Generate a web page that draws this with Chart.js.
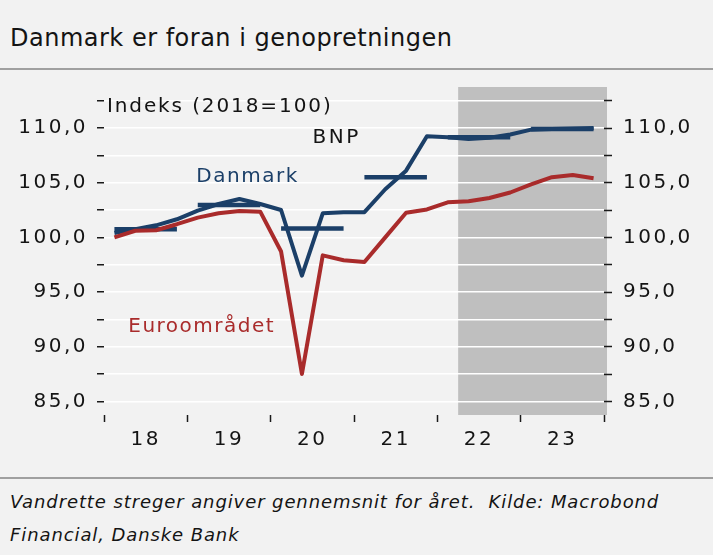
<!DOCTYPE html>
<html><head><meta charset="utf-8">
<script src="https://cdn.jsdelivr.net/npm/chart.js@4.4.0/dist/chart.umd.min.js"></script>
<style>
html,body{margin:0;padding:0;background:#f2f2f2;width:713px;height:555px;overflow:hidden;}
#title{position:absolute;left:10px;top:24px;font-family:"DejaVu Sans";font-size:24px;line-height:28px;color:#141414;letter-spacing:0.5px;white-space:nowrap;}
.rule{position:absolute;left:0;width:713px;height:2px;background:#a0a0a0;}
#wrap{position:absolute;left:0;top:70px;width:713px;height:406px;}
#note{position:absolute;left:10px;top:485px;font-family:"DejaVu Sans";font-style:italic;font-size:18px;line-height:33px;color:#141414;letter-spacing:0.9px;white-space:nowrap;}
</style></head>
<body>
<div id="title">Danmark er foran i genopretningen</div>
<div class="rule" style="top:68px"></div>
<div id="wrap"><canvas id="c"></canvas></div>
<div class="rule" style="top:477px"></div>
<div id="note">Vandrette streger angiver gennemsnit for året.&nbsp; Kilde: Macrobond<br>Financial, Danske Bank</div>
<script>
// ---- data ----
const quarters = ['18K1','18K2','18K3','18K4','19K1','19K2','19K3','19K4','20K1','20K2','20K3','20K4',
                  '21K1','21K2','21K3','21K4','22K1','22K2','22K3','22K4','23K1','23K2','23K3','23K4'];
const years = ['18','19','20','21','22','23'];
const danmark = [100.4,100.75,101.1,101.65,102.45,103.05,103.5,103.05,102.5,96.5,102.2,102.3,
                 102.3,104.4,106.1,109.25,109.15,109.0,109.1,109.4,109.85,109.9,109.95,110.0];
const euro = [100.0,100.6,100.65,101.2,101.8,102.2,102.4,102.35,98.7,87.5,98.35,97.9,
              97.75,100.0,102.25,102.55,103.2,103.3,103.6,104.1,104.85,105.5,105.7,105.4];
const danmarkAvg = [100.75,102.95,100.8,105.5,109.15,109.9];
const yTicks = [85,87.5,90,92.5,95,97.5,100,102.5,105,107.5,110,112.5];
const yTickLabels = ['85,0','','90,0','','95,0','','100,0','','105,0','','110,0',''];
const forecastStart = 16.5; // between 22K1 and 22K2

// ---- derived ----
const BLUE = '#1b3f68', RED = '#a92b2b';
const xBoundaries = years.map((y,i)=>i*4-0.5).concat([years.length*4-0.5]);
const xCenters = years.map((y,i)=>i*4+1.5);
const xTicks = xBoundaries.concat(xCenters).sort((a,b)=>a-b);
const avgPts = [];
danmarkAvg.forEach((v,i)=>{ avgPts.push({x:i*4,y:v},{x:i*4+3,y:v},{x:i*4+3.5,y:null}); });

const notes = [
  {text:'Indeks (2018=100)', x:-0.36, y:112.1, color:'#141414', align:'left', ls:'1.9px'},
  {text:'BNP', x:10.67, y:109.3, color:'#141414', align:'center', ls:'2.5px'},
  {text:'Danmark', x:6.39, y:105.7, color:BLUE, align:'center', ls:'1.5px'},
  {text:'Euroområdet', x:4.19, y:92.0, color:RED, align:'center', ls:'1.5px'}
];

const FONT = {family:'DejaVu Sans', size:20};
const shadePlugin = {
  id:'shade',
  beforeDraw(chart){
    const {ctx, chartArea, scales} = chart;
    ctx.save();
    ctx.fillStyle = '#bfbfbf';
    const x0 = scales.x.getPixelForValue(forecastStart);
    ctx.fillRect(x0, chartArea.top, chartArea.right + 3 - x0, chartArea.bottom - chartArea.top);
    ctx.restore();
    ctx.letterSpacing = '2.5px';
  },
  afterDraw(chart){
    const {ctx, scales} = chart;
    ctx.save();
    ctx.font = '20px "DejaVu Sans"';
    ctx.textBaseline = 'alphabetic';
    notes.forEach(n=>{
      ctx.letterSpacing = n.ls;
      ctx.fillStyle = n.color;
      ctx.textAlign = n.align;
      ctx.fillText(n.text, scales.x.getPixelForValue(n.x), scales.y.getPixelForValue(n.y) + 7.3);
    });
    ctx.restore();
  }
};

const yAxisBase = (pos, pad, w)=>({
  position: pos, min: 83.75, max: 113.75,
  afterBuildTicks: s => { s.ticks = yTicks.map(v=>({value:v})); },
  afterFit: s => { s.width = w; s.paddingTop = 0; s.paddingBottom = 0; },
  border: {display:false},
  ticks: {font: FONT, color:'#141414', padding: pad, callback:(v,i)=>yTickLabels[i]}
});

new Chart(document.getElementById('c'), {
  type: 'line',
  data: {
    labels: quarters,
    datasets: [
      {label:'Euroområdet', data: euro.map((v,i)=>({x:i,y:v})), borderColor: RED, borderWidth: 4},
      {label:'Danmark', data: danmark.map((v,i)=>({x:i,y:v})), borderColor: BLUE, borderWidth: 4},
      {label:'Danmark gennemsnit', data: avgPts, borderColor: BLUE, borderWidth: 4.5, spanGaps:false}
    ]
  },
  options: {
    responsive: true, maintainAspectRatio: false, animation: false,
    layout: {padding: {top: 17, bottom: 0, left: 0, right: 0}},
    plugins: {legend: {display:false}, tooltip: {enabled:false}},
    elements: {point: {radius: 0}, line: {tension: 0, borderJoinStyle: 'round', fill: false}},
    scales: {
      x: {
        type: 'linear', min: -0.5, max: 23.5,
        afterBuildTicks: s => { s.ticks = xTicks.map(v=>({value:v})); },
        afterFit: s => { s.height = 61; s.paddingLeft = 0; s.paddingRight = 0; },
        border: {display:false},
        grid: {drawOnChartArea:false, drawTicks:true, tickLength:7, tickWidth:1.5,
               tickColor: c => (c.tick && xBoundaries.includes(c.tick.value)) ? '#1a1a1a' : 'rgba(0,0,0,0)'},
        ticks: {autoSkip:false, maxRotation:0, padding:6, font: FONT, color:'#141414',
                callback: v => { const i = xCenters.indexOf(v); return i >= 0 ? years[i] : ''; }}
      },
      y: Object.assign(yAxisBase('left', 9, 104), {
        grid: {color:'#ffffff', lineWidth:1.5, tickLength:7, tickWidth:1.5, tickColor:'#1a1a1a'},
      }),
      y2: Object.assign(yAxisBase('right', 11, 109), {
        grid: {drawOnChartArea:false, tickLength:8, tickWidth:1.5, tickColor:'#1a1a1a'},
      })
    }
  },
  plugins: [shadePlugin]
});
</script>
</body></html>
